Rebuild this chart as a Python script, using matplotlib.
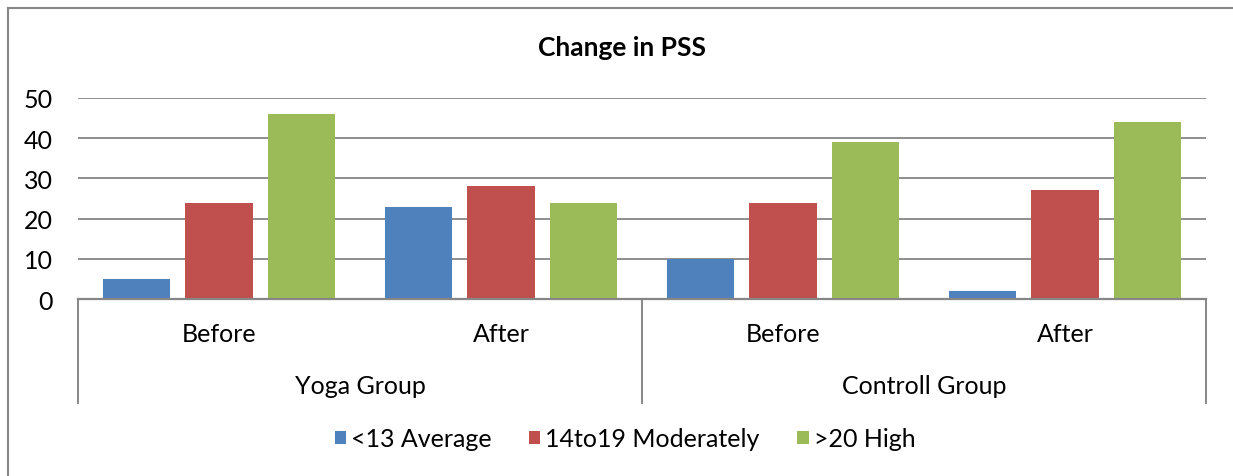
import matplotlib
matplotlib.use("Agg")
import matplotlib.pyplot as plt
from matplotlib.lines import Line2D
from matplotlib.patches import Patch

# data
subcats = ["Before", "After", "Before", "After"]
groups = ["Yoga Group", "Controll Group"]
series_names = ["<13 Average", "14to19 Moderately", ">20 High"]
avg_vals = [5, 23, 10, 2]
mod_vals = [24, 28, 24, 27]
high_vals = [46, 24, 39, 44]
colors = ["#4F81BD", "#C0504D", "#9BBB59"]
GRAY = "#868686"
FS = 18

plt.rcParams['font.family'] = ['Lato', 'DejaVu Sans']

fig = plt.figure(figsize=(12.33, 4.77), dpi=100)
W, H = 1233, 477
ax = fig.add_axes([78/W, (H-300)/H, (1206-78)/W, 201/H])

width = 0.2376
step = 0.294
for k, vals in enumerate([avg_vals, mod_vals, high_vals]):
    xs = [i + 0.5 + (k-1)*step for i in range(len(vals))]
    ax.bar(xs, vals, width=width, color=colors[k], zorder=3)

ax.set_xlim(0, 4)
ax.set_ylim(0, 50)
ax.set_yticks([0, 10, 20, 30, 40, 50])
ax.yaxis.grid(True, color=GRAY, linewidth=1.3, zorder=0)
for s in ["left", "right", "top"]:
    ax.spines[s].set_visible(False)
ax.spines["bottom"].set_color(GRAY)
ax.spines["bottom"].set_linewidth(1.6)
ax.spines["bottom"].set_zorder(4)
ax.set_xticks([])
ax.tick_params(axis="y", length=0, labelsize=FS, pad=18)

# category axis with two levels
tr = ax.get_xaxis_transform()
ybot = -(404-300)/201
for x in [0, 2, 4]:
    ax.plot([x, x], [0, ybot], color=GRAY, lw=1.4, transform=tr, clip_on=False)
for i, lab in enumerate(subcats):
    ax.text(i + 0.5, -(335-300)/201, lab, transform=tr, ha="center", va="center", fontsize=FS)
for j, g in enumerate(groups):
    ax.text(2*j + 1, -(386-300)/201, g, transform=tr, ha="center", va="center", fontsize=FS)

fig.text(622/W, (H-48)/H, "Change in PSS", ha="center", va="center", fontsize=19, fontweight="bold")

handles = [Patch(facecolor=c, edgecolor="none") for c in colors]
fig.legend(handles, series_names, loc="center", bbox_to_anchor=(625/W, (H-440)/H), ncol=3,
           frameon=False, fontsize=FS, handlelength=0.45, handleheight=0.45,
           handletextpad=0.2, columnspacing=1.5)

# chart border
fig.add_artist(Line2D([8/W, 8/W], [0, (H-9)/H], color=GRAY, lw=1.5))
fig.add_artist(Line2D([8/W, 1], [(H-9)/H, (H-9)/H], color=GRAY, lw=1.5))

fig.savefig("out.png", dpi=100)
